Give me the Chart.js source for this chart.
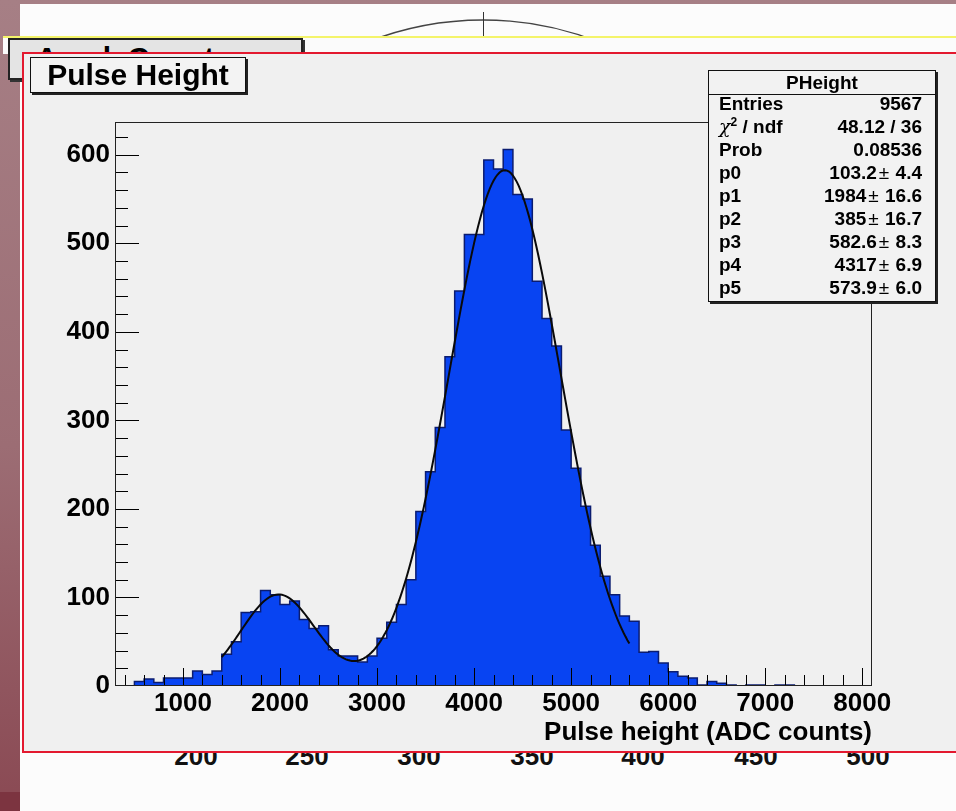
<!DOCTYPE html>
<html>
<head>
<meta charset="utf-8">
<title>Pulse Height</title>
<script src="https://cdn.jsdelivr.net/npm/chart.js"></script>
<style>
  html, body { margin: 0; padding: 0; }
  body {
    width: 956px; height: 811px; overflow: hidden; position: relative;
    background: linear-gradient(to bottom, #a67f85 0%, #9c6d74 55%, #8a4953 100%);
    font-family: "Liberation Sans", Arial, Helvetica, sans-serif;
  }
  .sheet { position: absolute; left: 20px; top: 4px; right: 0; bottom: 0; background: #fcfcfc; }
  .corner { position: absolute; left: 0; top: 792px; width: 20px; bottom: 0; background: #7c3440; }
  .arc { position: absolute; left: 0; top: 0; }
  .backpad { position: absolute; left: 3px; top: 36px; right: 0; height: 16px; background: #fbfbfb; border-top: 2px solid #f4f46a; }
  .backtitle {
    position: absolute; left: 8px; top: 38px; width: 295px; height: 42px; box-sizing: border-box;
    background: #e4e4e4; border: 2px solid #222; box-shadow: 2px 2px 0 #333;
    font-weight: bold; font-size: 30px; line-height: 36px; padding-left: 26px; white-space: nowrap;
  }
  .backticks span {
    position: absolute; top: 743px; width: 80px; margin-left: -40px; text-align: center;
    font-weight: bold; font-size: 26px; line-height: 26px; color: #111;
  }
  .pad {
    position: absolute; left: 22px; top: 52px; width: 960px; height: 701px; box-sizing: border-box;
    background: #f0f0f0; border: 2px solid #e3192f;
  }
  #plot { position: absolute; left: 0; top: 0; }
  .title {
    position: absolute; left: 30px; top: 57px; width: 216px; height: 36px; box-sizing: border-box;
    background: #f3f3f3; border: 1.5px solid #111; box-shadow: 2px 2px 0 #222;
    display: flex; align-items: center; justify-content: center;
    font-weight: bold; font-size: 30px; line-height: 30px;
  }
  .stats {
    position: absolute; left: 708px; top: 70px; width: 228px; height: 232px; box-sizing: border-box;
    background: #f2f2f2; border: 1px solid #111; box-shadow: 2px 2px 0 #222;
    font-weight: bold; font-size: 19px;
  }
  .stats .head { position: absolute; left: 0; right: 0; top: 0; height: 23px; line-height: 23px; text-align: center; border-bottom: 1px solid #111; }
  .stats .rows { position: absolute; left: 0; right: 0; top: 20.5px; }
  .stats .row { display: flex; justify-content: space-between; height: 23.1px; line-height: 23.1px; padding: 0 13px 0 10px; }
  .stats .pm { font-weight: normal; margin: 0 1px 0 2px; }
  .stats .chi { font-family: "DejaVu Serif", serif; font-style: italic; font-weight: normal; }
  .stats sup { font-size: 12px; line-height: 0; }
</style>
</head>
<body>
<div class="sheet"></div>
<div class="corner"></div>
<svg class="arc" width="956" height="60">
  <circle cx="483" cy="335" r="315" fill="none" stroke="#444" stroke-width="1.3"/>
  <line x1="483.5" y1="12" x2="483.5" y2="38" stroke="#333" stroke-width="1"/>
</svg>
<div class="backticks">
  <span style="left:196px">200</span>
  <span style="left:307px">250</span>
  <span style="left:419px">300</span>
  <span style="left:532px">350</span>
  <span style="left:643px">400</span>
  <span style="left:756px">450</span>
  <span style="left:868px">500</span>
</div>
<div class="backpad"></div>
<div class="backtitle">Ampl. Counts</div>
<div class="pad"></div>
<canvas id="plot" width="956" height="811"></canvas>
<div class="title">Pulse Height</div>
<div class="stats">
  <div class="head">PHeight</div>
  <div class="rows">
    <div class="row"><span>Entries</span><span>9567</span></div>
    <div class="row"><span><span class="chi">χ</span><sup>2</sup> / ndf</span><span>48.12 / 36</span></div>
    <div class="row"><span>Prob</span><span>0.08536</span></div>
    <div class="row"><span>p0</span><span>103.2<span class="pm">±</span> 4.4</span></div>
    <div class="row"><span>p1</span><span>1984<span class="pm">±</span> 16.6</span></div>
    <div class="row"><span>p2</span><span>385<span class="pm">±</span> 16.7</span></div>
    <div class="row"><span>p3</span><span>582.6<span class="pm">±</span> 8.3</span></div>
    <div class="row"><span>p4</span><span>4317<span class="pm">±</span> 6.9</span></div>
    <div class="row"><span>p5</span><span>573.9<span class="pm">±</span> 6.0</span></div>
  </div>
</div>
<script>
// histogram: 100 ADC counts per bin, first bin starts at 500
const binStart = 500;
const binWidth = 100;
const counts = [
  5, 8, 4, 9, 9, 9, 17, 13, 17, 36,          // 500 - 1400
  50, 83, 84, 108, 103, 92, 96, 75, 65, 68,  // 1500 - 2400
  41, 34, 34, 27, 34, 54, 72, 92, 120, 197,  // 2500 - 3400
  242, 292, 372, 446, 510, 510, 594, 584, 606, 555, // 3500 - 4400
  550, 457, 415, 384, 289, 246, 203, 159, 124, 103, // 4500 - 5400
  79, 73, 38, 39, 26, 16, 11, 9, 1, 5,       // 5500 - 6400
  3, 1, 0, 1, 1, 0, 1, 1, 0                  // 6500 - 7300
];

// double gaussian fit: p0..p2 low peak, p3..p5 main peak
const fitParams = [103.2, 1984, 385, 582.6, 4317, 573.9];
const fitRange = [1400, 5600];

const xRange = [300, 8100];
const yRange = [0, 637];
const xLabels = [1000, 2000, 3000, 4000, 5000, 6000, 7000, 8000];
const yLabels = [0, 100, 200, 300, 400, 500, 600];

const histPoints = [{ x: binStart, y: 0 }];
counts.forEach((c, i) => histPoints.push({ x: binStart + i * binWidth, y: c }));
histPoints.push({ x: binStart + counts.length * binWidth, y: 0 });

const gaus = (x, a, m, s) => a * Math.exp(-0.5 * ((x - m) / s) ** 2);
const fitPoints = [];
for (let x = fitRange[0]; x <= fitRange[1]; x += 20) {
  const [p0, p1, p2, p3, p4, p5] = fitParams;
  fitPoints.push({ x, y: gaus(x, p0, p1, p2) + gaus(x, p3, p4, p5) });
}

const labelFont = { family: "'Liberation Sans', Arial, Helvetica, sans-serif", size: 26, weight: 'bold' };

// ROOT style ticks drawn inside the frame, on top of the histogram
const frameTicks = {
  id: 'frameTicks',
  afterDatasetsDraw(chart) {
    const { ctx, chartArea: a, scales: { x, y } } = chart;
    ctx.save();
    ctx.strokeStyle = '#000';
    ctx.lineWidth = 1;
    ctx.beginPath();
    for (let v = 400; v <= 8000; v += 200) {
      const px = Math.round(x.getPixelForValue(v)) + 0.5;
      const len = v % 1000 === 0 ? 18 : 11;
      ctx.moveTo(px, a.bottom);
      ctx.lineTo(px, a.bottom - len);
    }
    for (let v = 20; v <= 620; v += 20) {
      const py = Math.round(y.getPixelForValue(v)) + 0.5;
      const len = v % 100 === 0 ? 24 : 13;
      ctx.moveTo(a.left, py);
      ctx.lineTo(a.left + len, py);
    }
    ctx.stroke();
    ctx.strokeStyle = '#222';
    ctx.strokeRect(a.left + 0.5, a.top + 0.5, a.right - a.left - 1, a.bottom - a.top - 1);
    ctx.restore();
  }
};

new Chart(document.getElementById('plot'), {
  type: 'line',
  data: {
    datasets: [
      {
        label: 'PHeight',
        data: histPoints,
        stepped: 'before',
        fill: 'origin',
        backgroundColor: '#0844f2',
        borderColor: '#0b1c70',
        borderWidth: 1.5,
        pointRadius: 0,
        order: 2
      },
      {
        label: 'fit',
        data: fitPoints,
        fill: false,
        borderColor: '#0a0a0a',
        borderWidth: 2,
        pointRadius: 0,
        tension: 0,
        order: 1
      }
    ]
  },
  options: {
    responsive: false,
    animation: false,
    events: [],
    layout: { padding: { top: 122, right: 84, left: 0, bottom: 0 } },
    plugins: { legend: { display: false }, tooltip: { enabled: false } },
    scales: {
      x: {
        type: 'linear',
        min: xRange[0],
        max: xRange[1],
        grid: { display: false, drawTicks: false },
        border: { display: false },
        afterBuildTicks(scale) { scale.ticks = xLabels.map(v => ({ value: v })); },
        ticks: {
          autoSkip: false,
          maxRotation: 0,
          padding: 2,
          color: '#000',
          font: labelFont,
          callback: v => String(v)
        },
        title: {
          display: true,
          text: 'Pulse height (ADC counts)',
          align: 'end',
          color: '#000',
          font: labelFont,
          padding: { top: 0, bottom: 63 }
        },
        afterFit(scale) { scale.height = 125; }
      },
      y: {
        min: yRange[0],
        max: yRange[1],
        grid: { display: false, drawTicks: false },
        border: { display: false },
        afterBuildTicks(scale) { scale.ticks = yLabels.map(v => ({ value: v })); },
        ticks: {
          autoSkip: false,
          padding: 5,
          color: '#000',
          font: labelFont,
          callback: v => String(v)
        },
        afterFit(scale) { scale.width = 115; }
      }
    }
  },
  plugins: [frameTicks]
});
</script>
</body>
</html>
